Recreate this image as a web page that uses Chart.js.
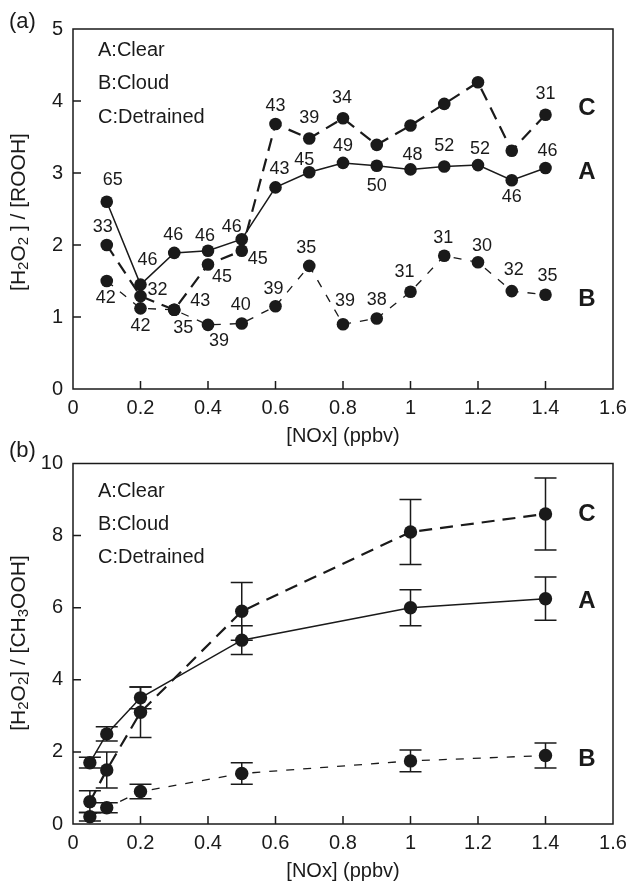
<!DOCTYPE html>
<html>
<head>
<meta charset="utf-8">
<script src="https://cdn.jsdelivr.net/npm/chart.js@4.4.1/dist/chart.umd.min.js"></script>
<style>
  html, body { margin: 0; padding: 0; background: #fff; }
  #wrap { position: relative; width: 630px; height: 885px; }
  canvas { position: absolute; left: 0; }
</style>
</head>
<body>
<div id="wrap">
  <canvas id="chartA" width="630" height="450" style="top:0"></canvas>
  <canvas id="chartB" width="630" height="445" style="top:440px"></canvas>
</div>
<script>
// ---- panel (a) data ----
const noxA = [0.1, 0.2, 0.3, 0.4, 0.5, 0.6, 0.7, 0.8, 0.9, 1.0, 1.1, 1.2, 1.3, 1.4];
const clearA = [2.60, 1.45, 1.89, 1.92, 2.08, 2.80, 3.01, 3.14, 3.10, 3.05, 3.09, 3.11, 2.90, 3.07];
const cloudA = [1.50, 1.12, 1.10, 0.89, 0.91, 1.15, 1.71, 0.90, 0.98, 1.35, 1.85, 1.76, 1.36, 1.31];
const detrainedA = [2.00, 1.29, 1.10, 1.73, 1.92, 3.68, 3.48, 3.76, 3.39, 3.66, 3.96, 4.26, 3.31, 3.81];
const clearN = [65, 46, 46, 46, 46, 43, 45, 49, 50, 48, 52, 52, 46, 46];
const cloudN = [42, 42, 35, 39, 40, 39, 35, 39, 38, 31, 31, 30, 32, 35];
const detrainedN = [33, 32, 43, 45, 45, 43, 39, 34, null, null, null, null, null, 31];

// ---- panel (b) data ----
const noxB = [0.05, 0.1, 0.2, 0.5, 1.0, 1.4];
const clearB = [1.70, 2.50, 3.50, 5.10, 6.00, 6.25];
const clearErr = [0.15, 0.20, 0.30, 0.40, 0.50, 0.60];
const cloudB = [0.20, 0.45, 0.90, 1.40, 1.75, 1.90];
const cloudErr = [0.12, 0.14, 0.20, 0.30, 0.30, 0.35];
const detrainedB = [0.62, 1.50, 3.10, 5.90, 8.10, 8.60];
const detrainedErr = [0.30, 0.50, 0.70, 0.80, 0.90, 1.00];

// ---- ticks ----
const xTicks = [0, 0.2, 0.4, 0.6, 0.8, 1.0, 1.2, 1.4, 1.6];
const xTickLabels = ['0', '0.2', '0.4', '0.6', '0.8', '1', '1.2', '1.4', '1.6'];
const yTicksA = [0, 1, 2, 3, 4, 5];
const yTicksB = [0, 2, 4, 6, 8, 10];
const legendLines = ['A:Clear', 'B:Cloud', 'C:Detrained'];

const INK = '#1a1a1a';
const FONT = '"Liberation Sans", Arial, Helvetica, sans-serif';

// label placement (pixel offsets from each marker) for panel (a)
const offClear = [[6,-22],[7,-25],[-1,-18],[-3,-15],[-10,-12],[4,-18],[-5,-12],[0,-17],[0,20],[2,-14],[0,-20],[2,-16],[0,17],[2,-17]];
const offCloud = [[-1,17],[0,18],[9,18],[11,16],[-1,-18],[-2,-17],[-3,-18],[2,-23],[0,-18],[-6,-20],[-1,-18],[4,-16],[2,-21],[2,-19]];
const offDetr = [[-4,-18],[17,-6],[26,-9],[14,13],[16,8],[0,-18],[0,-20],[-1,-20],null,null,null,null,null,[0,-21]];

const toPoints = (xs, ys) => xs.map((x, i) => ({ x: x, y: ys[i] }));

const lineStyle = {
    A: { borderWidth: 1.5, borderDash: [] },
    B: { borderWidth: 1.3, borderDash: [8, 9] },
    C: { borderWidth: 2.2, borderDash: [13, 8] },
};

function makeDataset(points, style, radius) {
    return {
        data: points,
        showLine: true,
        tension: 0,
        borderColor: INK,
        backgroundColor: INK,
        borderWidth: style.borderWidth,
        borderDash: style.borderDash,
        pointRadius: radius,
        pointBorderWidth: 0,
        pointBackgroundColor: INK,
    };
}

function drawYTitle(ctx, parts, cx, cy) {
    ctx.save();
    ctx.translate(cx, cy);
    ctx.rotate(-Math.PI / 2);
    ctx.fillStyle = INK;
    ctx.textBaseline = 'middle';
    ctx.textAlign = 'left';
    const mainFont = '21px ' + FONT;
    const subFont = '15px ' + FONT;
    let total = 0;
    parts.forEach(p => {
        ctx.font = p.sub ? subFont : mainFont;
        total += ctx.measureText(p.t).width;
    });
    let x = -total / 2;
    parts.forEach(p => {
        ctx.font = p.sub ? subFont : mainFont;
        ctx.fillText(p.t, x, p.sub ? 5 : 0);
        x += ctx.measureText(p.t).width;
    });
    ctx.restore();
}

function panelPlugin(p) {
    return {
        id: 'panel_' + p.letter,
        beforeDatasetsDraw(chart) {
            if (!p.errors) return;
            const ctx = chart.ctx;
            const xs = chart.scales.x, ys = chart.scales.y;
            ctx.save();
            ctx.strokeStyle = INK;
            ctx.lineWidth = 1.5;
            p.errors.forEach(set => {
                set.xs.forEach((xv, i) => {
                    const px = xs.getPixelForValue(xv);
                    const top = ys.getPixelForValue(set.ys[i] + set.err[i]);
                    const bot = ys.getPixelForValue(set.ys[i] - set.err[i]);
                    ctx.beginPath();
                    ctx.moveTo(px, top); ctx.lineTo(px, bot);
                    ctx.moveTo(px - 11, top); ctx.lineTo(px + 11, top);
                    ctx.moveTo(px - 11, bot); ctx.lineTo(px + 11, bot);
                    ctx.stroke();
                });
            });
            ctx.restore();
        },
        afterDraw(chart) {
            const ctx = chart.ctx;
            const a = chart.chartArea;
            const xs = chart.scales.x, ys = chart.scales.y;
            ctx.save();
            // frame
            ctx.strokeStyle = INK;
            ctx.lineWidth = 1.5;
            ctx.strokeRect(a.left, a.top, a.right - a.left, a.bottom - a.top);
            // inward ticks
            ctx.beginPath();
            xTicks.slice(1, -1).forEach(v => {
                const px = xs.getPixelForValue(v);
                ctx.moveTo(px, a.bottom); ctx.lineTo(px, a.bottom - 8);
            });
            p.yTicks.slice(1, -1).forEach(v => {
                const py = ys.getPixelForValue(v);
                ctx.moveTo(a.left, py); ctx.lineTo(a.left + 8, py);
            });
            ctx.stroke();

            ctx.fillStyle = INK;
            // point counts
            if (p.counts) {
                ctx.font = '18px ' + FONT;
                ctx.textAlign = 'center';
                ctx.textBaseline = 'middle';
                p.counts.forEach(set => {
                    set.n.forEach((n, i) => {
                        if (n === null || !set.off[i]) return;
                        const px = xs.getPixelForValue(noxA[i]);
                        const py = ys.getPixelForValue(set.ys[i]);
                        ctx.fillText(String(n), px + set.off[i][0], py + set.off[i][1]);
                    });
                });
            }
            // legend text
            ctx.font = '20px ' + FONT;
            ctx.textAlign = 'left';
            ctx.textBaseline = 'middle';
            legendLines.forEach((t, i) => {
                ctx.fillText(t, a.left + 25, a.top + p.legendTop + i * p.legendGap);
            });
            // series letters on the right
            ctx.font = 'bold 24px ' + FONT;
            ctx.textAlign = 'center';
            p.tags.forEach(tg => {
                ctx.fillText(tg.t, a.right - 26, ys.getPixelForValue(tg.y));
            });
            // panel letter
            ctx.font = '22px ' + FONT;
            ctx.textAlign = 'left';
            ctx.fillText('(' + p.letter + ')', 9, p.letterY);
            // axis titles
            ctx.font = '20px ' + FONT;
            ctx.textAlign = 'center';
            ctx.fillText('[NOx] (ppbv)', (a.left + a.right) / 2, p.xTitleY);
            ctx.restore();
            drawYTitle(ctx, p.yTitle, 19, p.yTitleY);
        }
    };
}

function makeOptions(yMin, yMax, yTicks, xAxisHeight, padTop) {
    return {
        responsive: false,
        animation: false,
        devicePixelRatio: 1,
        layout: { padding: { left: 0, right: 17, top: padTop, bottom: 0 } },
        plugins: { legend: { display: false }, tooltip: { enabled: false } },
        scales: {
            x: {
                type: 'linear',
                min: 0, max: 1.6,
                afterBuildTicks: s => { s.ticks = xTicks.map(v => ({ value: v })); },
                afterFit: s => { s.height = xAxisHeight; s.paddingLeft = 0; s.paddingRight = 0; },
                grid: { display: false, drawTicks: false },
                border: { display: false },
                ticks: {
                    padding: 7,
                    color: INK,
                    font: { size: 20, family: FONT },
                    maxRotation: 0,
                    callback: (v, i) => xTickLabels[i],
                },
            },
            y: {
                type: 'linear',
                min: yMin, max: yMax,
                afterBuildTicks: s => { s.ticks = yTicks.map(v => ({ value: v })); },
                afterFit: s => { s.width = 73; s.paddingTop = 0; s.paddingBottom = 0; },
                grid: { display: false, drawTicks: false },
                border: { display: false },
                ticks: {
                    padding: 10,
                    color: INK,
                    font: { size: 20, family: FONT },
                    callback: (v, i) => String(yTicks[i]),
                },
            },
        },
    };
}

// ---- panel (a) ----
new Chart(document.getElementById('chartA'), {
    type: 'scatter',
    data: {
        datasets: [
            makeDataset(toPoints(noxA, cloudA), lineStyle.B, 6.3),
            makeDataset(toPoints(noxA, detrainedA), lineStyle.C, 6.3),
            makeDataset(toPoints(noxA, clearA), lineStyle.A, 6.3),
        ]
    },
    options: makeOptions(0, 5, yTicksA, 61, 29),
    plugins: [panelPlugin({
        letter: 'a',
        letterY: 22,
        yTicks: yTicksA,
        xTitleY: 436,
        yTitleY: 212,
        yTitle: [{ t: '[H' }, { t: '2', sub: true }, { t: 'O' }, { t: '2', sub: true }, { t: ' ] / [ROOH]' }],
        legendTop: 21,
        legendGap: 33.5,
        tags: [{ t: 'C', y: 3.9 }, { t: 'A', y: 3.01 }, { t: 'B', y: 1.24 }],
        counts: [
            { n: clearN, ys: clearA, off: offClear },
            { n: cloudN, ys: cloudA, off: offCloud },
            { n: detrainedN, ys: detrainedA, off: offDetr },
        ],
    })]
});

// ---- panel (b) ----
new Chart(document.getElementById('chartB'), {
    type: 'scatter',
    data: {
        datasets: [
            makeDataset(toPoints(noxB, cloudB), lineStyle.B, 6.7),
            makeDataset(toPoints(noxB, detrainedB), lineStyle.C, 6.7),
            makeDataset(toPoints(noxB, clearB), lineStyle.A, 6.7),
        ]
    },
    options: makeOptions(0, 10, yTicksB, 61, 23.5),
    plugins: [panelPlugin({
        letter: 'b',
        letterY: 11,
        yTicks: yTicksB,
        xTitleY: 431,
        yTitleY: 203,
        yTitle: [{ t: '[H' }, { t: '2', sub: true }, { t: 'O' }, { t: '2', sub: true }, { t: '] / [CH' }, { t: '3', sub: true }, { t: 'OOH]' }],
        legendTop: 28,
        legendGap: 33,
        tags: [{ t: 'C', y: 8.6 }, { t: 'A', y: 6.17 }, { t: 'B', y: 1.78 }],
        errors: [
            { xs: noxB, ys: clearB, err: clearErr },
            { xs: noxB, ys: cloudB, err: cloudErr },
            { xs: noxB, ys: detrainedB, err: detrainedErr },
        ],
    })]
});
</script>
</body>
</html>
